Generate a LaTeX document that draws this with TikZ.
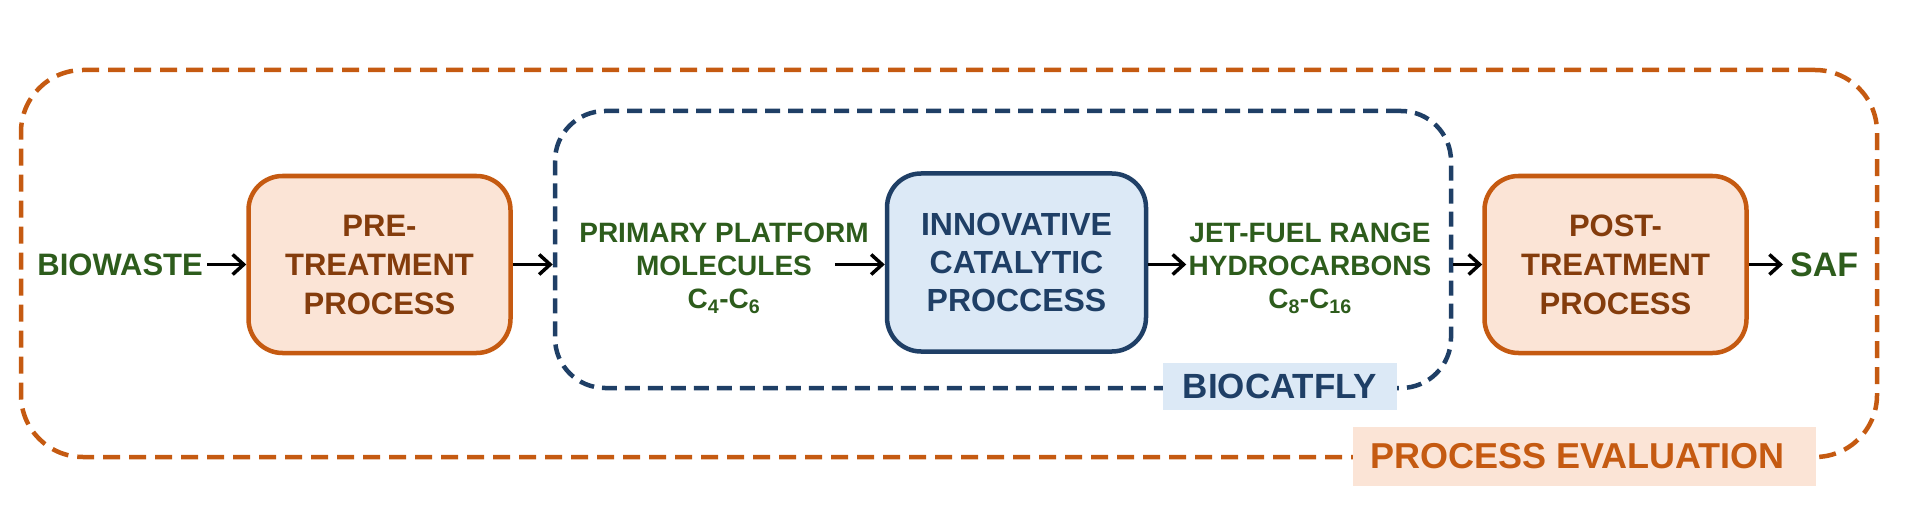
\documentclass[tikz,border=0pt]{standalone}
\usepackage{fontspec}
\setmainfont{Liberation Sans}
\usetikzlibrary{arrows.meta}
\definecolor{orng}{HTML}{C55A11}
\definecolor{orfill}{HTML}{FBE4D6}
\definecolor{brwn}{HTML}{843C0C}
\definecolor{navy}{HTML}{1F3F66}
\definecolor{bfill}{HTML}{DCE9F6}
\definecolor{grn}{HTML}{2D5C1C}
\begin{document}
\begin{tikzpicture}[x=1pt,y=-1pt,
  procbox/.style={draw=orng, fill=orfill, line width=4.5pt, rounded corners=34pt,
    minimum width=262pt, minimum height=177pt, inner sep=0pt, align=center,
    text=brwn, font=\fontsize{31}{39}\selectfont\bfseries},
  innbox/.style={draw=navy, fill=bfill, line width=4.5pt, rounded corners=34pt,
    minimum width=259pt, minimum height=178pt, inner sep=0pt, align=center,
    text=navy, font=\fontsize{32}{38}\selectfont\bfseries},
  flowtext/.style={text=grn, align=center, inner sep=0pt, font=\fontsize{28}{33}\selectfont\bfseries},
  endtext/.style={text=grn, inner sep=0pt},
  outerframe/.style={draw=orng, line width=4.5pt, dash pattern=on 17pt off 9pt, rounded corners=62pt, inner sep=0pt},
  innerframe/.style={draw=navy, line width=4.5pt, dash pattern=on 15pt off 8pt, rounded corners=50pt, inner sep=0pt},
  arr/.style={draw=black, line width=3.5pt, -{Straight Barb[length=11pt,width=20pt,line width=3.5pt]}},
]
\useasboundingbox (0,0) rectangle (1920,532);
% frames
\node[outerframe, minimum width=1856pt, minimum height=387pt] (outer) at (949,263.5) {};
\node[innerframe, minimum width=896pt, minimum height=277pt] (inner) at (1003,249.5) {};
% frame labels
\node[fill=orfill, text=orng, minimum width=463pt, minimum height=59pt, inner sep=0pt,
  font=\fontsize{36}{40}\selectfont\bfseries] (pe) at (1584.5,456.5) {\hspace*{-14pt}PROCESS EVALUATION};
\node[fill=bfill, text=navy, minimum width=234pt, minimum height=47pt, inner sep=0pt,
  font=\fontsize{35}{40}\selectfont\bfseries] (bc) at (1280,386.5) {BIOCATFLY};
% boxes
\node[procbox] (pre) at (379.5,264.5) {PRE-\\TREATMENT\\PROCESS};
\node[innbox] (inn) at (1016.5,262.5) {INNOVATIVE\\CATALYTIC\\PROCCESS};
\node[procbox] (post) at (1615.5,264.5) {POST-\\TREATMENT\\PROCESS};
% texts
\node[endtext, anchor=east, font=\fontsize{31}{38}\selectfont\bfseries] (bio) at (203,264.5) {BIOWASTE};
\node[endtext, anchor=west, font=\fontsize{34}{38}\selectfont\bfseries] (saf) at (1790,264.5) {SAF};
\node[flowtext] (ppm) at (724,268) {PRIMARY PLATFORM\\MOLECULES\\C\textsubscript{4}-C\textsubscript{6}};
\node[flowtext] (jet) at (1310,268) {JET-FUEL RANGE\\HYDROCARBONS\\C\textsubscript{8}-C\textsubscript{16}};
% arrows
\draw[arr] (bio.east) ++(4pt,0) -- (pre.west);
\draw[arr] (pre.east) -- (pre.east -| inner.west);
\draw[arr] ([xshift=-50pt]inn.west |- pre.east) -- (inn.west |- pre.east);
\draw[arr] (inn.east |- pre.east) -- ++(38pt,0);
\draw[arr] (inner.east |- post.west) -- (post.west);
\draw[arr] (post.east) -- ([xshift=-7pt]saf.west);
\end{tikzpicture}
\end{document}
